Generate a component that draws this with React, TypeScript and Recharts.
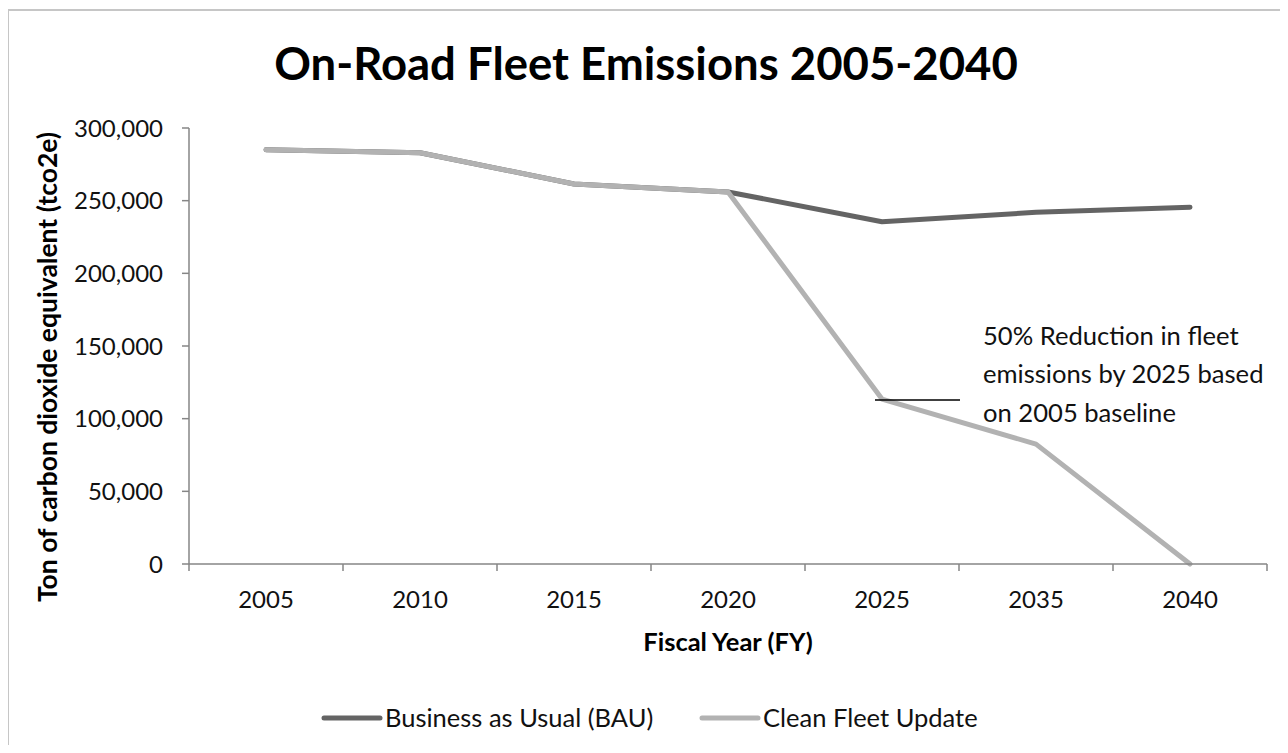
import React from "react";
import { LineChart, Line, XAxis, YAxis } from "recharts";

const YEARS = ["2005", "2010", "2015", "2020", "2025", "2035", "2040"];
const BAU = [285000, 283000, 261500, 256000, 235500, 242000, 245500];
const CLEAN = [285000, 283000, 261500, 256000, 113500, 82500, 0];
const Y_TICKS = [0, 50000, 100000, 150000, 200000, 250000, 300000];

const SERIES = [
  { key: "bau", name: "Business as Usual (BAU)", color: "#646464" },
  { key: "clean", name: "Clean Fleet Update", color: "#b2b2b2" },
];

const FONT = "Lato, 'Open Sans', sans-serif";
const AXIS = "#868686";
const X_TICK_SIZE = 7;
const X_TICK_MARGIN = 20;

const data = YEARS.map((year, idx) => ({ idx, year, bau: BAU[idx], clean: CLEAN[idx] }));
// labels sit at the category centres, tick marks on the boundaries between them (Excel style)
const xTicks = [...YEARS.map((_, i) => i - 0.5), ...YEARS.map((_, i) => i), YEARS.length - 0.5].sort(
  (a, b) => a - b
);

const fmt = (v: number) => v.toLocaleString("en-US");

const XTick = (props: any) => {
  const { x, y, payload } = props;
  const v = payload.value as number;
  if (!Number.isInteger(v)) {
    const top = y - X_TICK_SIZE - X_TICK_MARGIN;
    return <line x1={x} y1={top} x2={x} y2={top + X_TICK_SIZE} stroke={AXIS} strokeWidth={1.5} />;
  }
  return (
    <text x={x} y={y} dy="0.71em" textAnchor="middle" fill="#111" fontSize={24} fontFamily={FONT}>
      {YEARS[v]}
    </text>
  );
};

export default function App() {
  return (
    <div
      style={{
        position: "relative",
        width: 1288,
        height: 753,
        marginLeft: -8,
        marginTop: -8,
        marginBottom: -8,
        overflow: "hidden",
        background: "#fff",
        fontFamily: FONT,
      }}
    >
      <div
        style={{
          position: "absolute",
          left: 7,
          top: 9,
          width: 1280,
          height: 760,
          border: "2px solid #c6c6c6",
          boxSizing: "border-box",
        }}
      />
      <div style={{ position: "absolute", left: 0, top: 0 }}>
        <LineChart
          width={1288}
          height={753}
          data={data}
          margin={{ top: 128, right: 21, left: 39, bottom: 129 }}
        >
          <XAxis
            type="number"
            dataKey="idx"
            domain={[-0.5, YEARS.length - 0.5]}
            allowDataOverflow
            ticks={xTicks}
            interval={0}
            tickLine={false}
            axisLine={{ stroke: AXIS, strokeWidth: 1.5 }}
            tick={<XTick />}
            tickSize={X_TICK_SIZE}
            tickMargin={X_TICK_MARGIN}
            height={60}
          />
          <YAxis
            domain={[0, 300000]}
            ticks={Y_TICKS}
            interval={0}
            tickFormatter={fmt}
            axisLine={{ stroke: AXIS, strokeWidth: 1.5 }}
            tickLine={{ stroke: AXIS, strokeWidth: 1.5 }}
            tick={{ fill: "#111", fontSize: 24, fontFamily: FONT }}
            tickSize={7}
            tickMargin={19}
            width={150}
          />
          {SERIES.map((s) => (
            <Line
              key={s.key}
              dataKey={s.key}
              name={s.name}
              stroke={s.color}
              strokeWidth={5}
              strokeLinecap="round"
              strokeLinejoin="round"
              dot={false}
              activeDot={false}
              isAnimationActive={false}
            />
          ))}
        </LineChart>
      </div>
      <svg
        width={1288}
        height={753}
        style={{ position: "absolute", left: 0, top: 0, pointerEvents: "none" }}
        fontFamily={FONT}
      >
        <text x={646} y={80} textAnchor="middle" fontSize={45.5} fontWeight={700} fill="#000">
          On-Road Fleet Emissions 2005-2040
        </text>
        <text x={728} y={651} textAnchor="middle" fontSize={25.5} fontWeight={700} fill="#000">
          Fiscal Year (FY)
        </text>
        <text
          x={57}
          y={367}
          textAnchor="middle"
          fontSize={26.5}
          fontWeight={700}
          fill="#000"
          transform="rotate(-90, 57, 367)"
        >
          Ton of carbon dioxide equivalent (tco2e)
        </text>
        <line x1={875} y1={400} x2={960} y2={400} stroke="#000" strokeWidth={1.5} />
        <text fontSize={25.6} fill="#111">
          <tspan x={983} y={345}>50% Reduction in fleet</tspan>
          <tspan x={983} y={383}>emissions by 2025 based</tspan>
          <tspan x={983} y={422}>on 2005 baseline</tspan>
        </text>
        {SERIES.map((s, i) => {
          const x0 = i === 0 ? 322 : 700;
          return (
            <g key={s.key}>
              <line x1={x0 + 2} y1={718} x2={x0 + 58} y2={718} stroke={s.color} strokeWidth={5} strokeLinecap="round" />
              <text x={x0 + 63} y={727} fontSize={25.5} fill="#111">
                {s.name}
              </text>
            </g>
          );
        })}
      </svg>
    </div>
  );
}
